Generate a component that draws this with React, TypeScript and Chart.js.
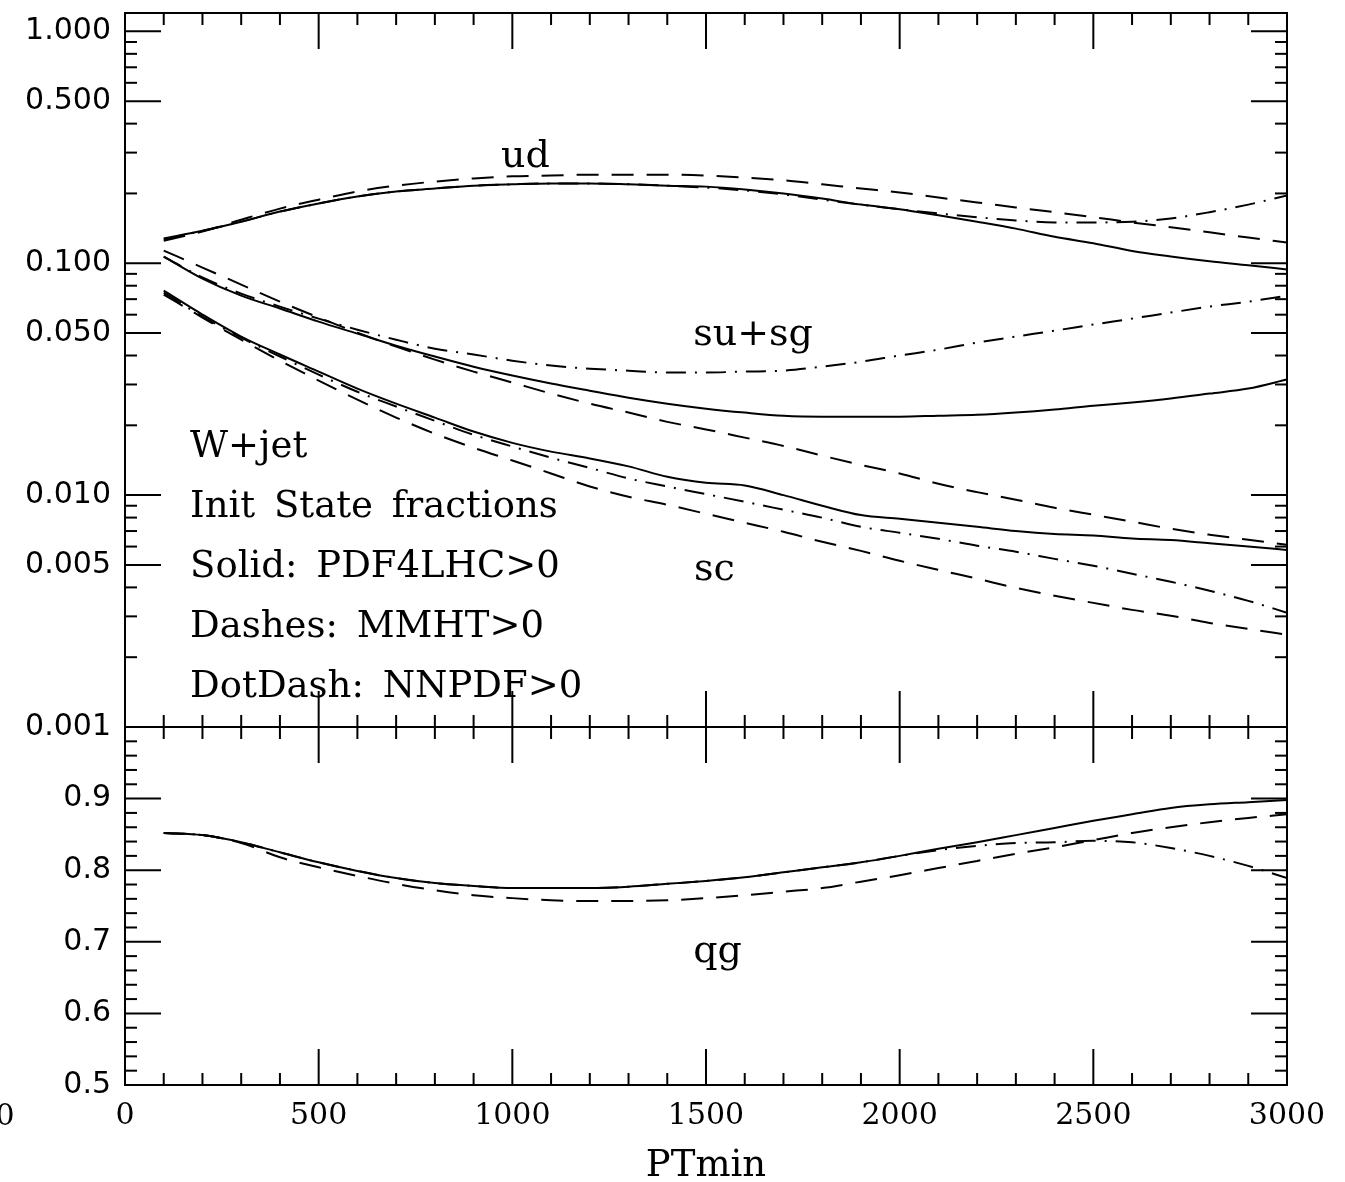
import { useEffect, useRef } from 'react';
import { Chart, registerables } from 'chart.js';

Chart.register(...registerables);

// ---- data ----
const PTMIN = [100, 200, 300, 400, 500, 600, 700, 800, 900, 1000, 1100, 1200, 1300, 1400, 1500,
  1600, 1700, 1800, 1900, 2000, 2100, 2200, 2300, 2400, 2500, 2600, 2700, 2800, 2900, 3000];

const UD_PDF4LHC = [0.128, 0.138, 0.151, 0.167, 0.181, 0.194, 0.204, 0.210, 0.216, 0.219, 0.221, 0.221, 0.219, 0.216, 0.214,
  0.208, 0.200, 0.190, 0.179, 0.171, 0.161, 0.151, 0.141, 0.130, 0.122, 0.113, 0.107, 0.102, 0.098, 0.094];
const UD_MMHT = [0.125, 0.137, 0.154, 0.172, 0.188, 0.204, 0.216, 0.225, 0.232, 0.237, 0.239, 0.241, 0.241, 0.241, 0.239,
  0.234, 0.228, 0.219, 0.210, 0.202, 0.192, 0.183, 0.174, 0.166, 0.158, 0.150, 0.143, 0.136, 0.129, 0.123];
const UD_NNPDF = [0.127, 0.138, 0.151, 0.167, 0.181, 0.194, 0.204, 0.210, 0.216, 0.219, 0.221, 0.221, 0.219, 0.216, 0.212,
  0.206, 0.198, 0.188, 0.179, 0.171, 0.164, 0.158, 0.153, 0.150, 0.150, 0.151, 0.156, 0.166, 0.179, 0.196];

const SU_PDF4LHC = [0.1069, 0.0859, 0.0725, 0.0638, 0.0560, 0.0497, 0.0441, 0.0396, 0.0358, 0.0328, 0.0303, 0.0282, 0.0263, 0.0248, 0.0236,
  0.0227, 0.0220, 0.0218, 0.0218, 0.0218, 0.0220, 0.0222, 0.0227, 0.0234, 0.0243, 0.0251, 0.0261, 0.0274, 0.0288, 0.0315];
const SU_MMHT = [0.1134, 0.0958, 0.0809, 0.0683, 0.0583, 0.0502, 0.0437, 0.0384, 0.0341, 0.0306, 0.0274, 0.0248, 0.0227, 0.0207, 0.0192,
  0.0177, 0.0163, 0.0148, 0.0135, 0.0124, 0.0112, 0.0103, 0.00955, 0.00882, 0.00823, 0.00768, 0.00716, 0.00675, 0.00642, 0.00611];
const SU_NNPDF = [0.1069, 0.0868, 0.0740, 0.0650, 0.0577, 0.0517, 0.0468, 0.0428, 0.0404, 0.0380, 0.0362, 0.0351, 0.0344, 0.0338, 0.0338,
  0.0341, 0.0344, 0.0358, 0.0376, 0.0400, 0.0424, 0.0455, 0.0483, 0.0512, 0.0544, 0.0577, 0.0613, 0.0650, 0.0683, 0.0725];

const SC_PDF4LHC = [0.0762, 0.0601, 0.0483, 0.0404, 0.0341, 0.0288, 0.0248, 0.0216, 0.0188, 0.0168, 0.0154, 0.0144, 0.0133, 0.0120, 0.0113,
  0.0110, 0.0100, 0.0090, 0.0082, 0.0079, 0.0076, 0.0073, 0.0070, 0.0068, 0.0067, 0.0065, 0.0064, 0.0062, 0.0060, 0.0058];
const SC_MMHT = [0.0733, 0.0583, 0.0468, 0.0380, 0.0312, 0.0258, 0.0216, 0.0184, 0.0160, 0.0141, 0.0124, 0.0109, 0.00984, 0.00909, 0.00831,
  0.00760, 0.00695, 0.00629, 0.00575, 0.00521, 0.00476, 0.00436, 0.00398, 0.00368, 0.00343, 0.00320, 0.00302, 0.00281, 0.00265, 0.00250];
const SC_NNPDF = [0.0747, 0.0589, 0.0478, 0.0396, 0.0331, 0.0279, 0.0241, 0.0209, 0.0182, 0.0162, 0.0145, 0.0131, 0.0118, 0.0109, 0.0101,
  0.00936, 0.00865, 0.00799, 0.00730, 0.00688, 0.00648, 0.00605, 0.00570, 0.00531, 0.00496, 0.00458, 0.00423, 0.00387, 0.00350, 0.00311];

const QG_PDF4LHC = [0.852, 0.849, 0.839, 0.825, 0.811, 0.799, 0.789, 0.782, 0.778, 0.775, 0.775, 0.775, 0.777, 0.781, 0.785,
  0.790, 0.797, 0.804, 0.811, 0.820, 0.830, 0.839, 0.849, 0.859, 0.869, 0.878, 0.887, 0.892, 0.895, 0.898];
const QG_MMHT = [0.852, 0.849, 0.838, 0.818, 0.804, 0.792, 0.781, 0.772, 0.765, 0.761, 0.758, 0.757, 0.757, 0.758, 0.761,
  0.765, 0.770, 0.775, 0.784, 0.793, 0.803, 0.813, 0.823, 0.832, 0.842, 0.852, 0.860, 0.867, 0.873, 0.878];
const QG_NNPDF = [0.852, 0.849, 0.839, 0.825, 0.811, 0.799, 0.789, 0.782, 0.778, 0.775, 0.775, 0.775, 0.777, 0.781, 0.785,
  0.790, 0.797, 0.804, 0.811, 0.820, 0.828, 0.834, 0.838, 0.839, 0.841, 0.839, 0.831, 0.820, 0.806, 0.789];

const X_TICKS = [0, 500, 1000, 1500, 2000, 2500, 3000];
const LOG_TICKS = [0.001, 0.005, 0.01, 0.05, 0.1, 0.5, 1];
const LIN_TICKS = [0.5, 0.6, 0.7, 0.8, 0.9];

const CURVE_LABELS = [
  { text: 'ud', x: 971, y: 0.259, axis: 'yTop' },
  { text: 'su+sg', x: 1467, y: 0.0446, axis: 'yTop' },
  { text: 'sc', x: 1469, y: 0.00431, axis: 'yTop' },
  { text: 'qg', x: 1467, y: 0.672, axis: 'yBot' },
];
const INFO_LINES = ['W+jet', 'Init State fractions', 'Solid: PDF4LHC>0', 'Dashes: MMHT>0', 'DotDash: NNPDF>0'];
const INFO_Y = [0.01465, 0.00807, 0.00445, 0.00245, 0.00135];
const INFO_X = 168;

const DASH = [22, 13];
const DOTDASH = [20, 9, 2, 9];

function series(ys: number[]) {
  return PTMIN.map((x, i) => ({ x, y: ys[i] }));
}

function ds(ys: number[], axis: string, dash: number[]) {
  return {
    data: series(ys),
    yAxisID: axis,
    borderColor: '#000',
    borderWidth: 2,
    borderDash: dash,
    pointRadius: 0,
    fill: false,
    cubicInterpolationMode: 'monotone' as const,
  };
}

const framePlugin = {
  id: 'framePlugin',
  afterDatasetsDraw(chart: any) {
    const { ctx, chartArea: ca } = chart;
    const xs = chart.scales.x;
    const yT = chart.scales.yTop;
    const yB = chart.scales.yBot;
    ctx.save();
    ctx.strokeStyle = '#000';
    ctx.lineWidth = 2;
    ctx.setLineDash([]);
    const seg = (x1: number, y1: number, x2: number, y2: number) => {
      ctx.beginPath();
      ctx.moveTo(x1, y1);
      ctx.lineTo(x2, y2);
      ctx.stroke();
    };
    ctx.strokeRect(ca.left, ca.top, ca.right - ca.left, ca.bottom - ca.top);
    const mid = yT.bottom;
    seg(ca.left, mid, ca.right, mid);

    // x ticks
    for (let v = 0; v <= 3000; v += 100) {
      const px = xs.getPixelForValue(v);
      const len = v % 500 === 0 ? 36 : 12;
      seg(px, yT.top, px, yT.top + len);
      seg(px, mid, px, mid - len);
      seg(px, mid, px, mid + len);
      seg(px, yB.bottom, px, yB.bottom - len);
    }
    // log ticks
    for (const dec of [0.001, 0.01, 0.1, 1]) {
      for (let m = 1; m <= 9; m++) {
        const v = m * dec;
        if (v > yT.max * 1.0001) continue;
        const len = m === 1 || m === 5 ? 36 : 12;
        const py = yT.getPixelForValue(v);
        seg(ca.left, py, ca.left + len, py);
        seg(ca.right, py, ca.right - len, py);
      }
    }
    // linear ticks
    for (let k = 0; k <= 25; k++) {
      const v = 0.5 + k * 0.02;
      const len = k % 5 === 0 ? 36 : 12;
      const py = yB.getPixelForValue(v);
      seg(ca.left, py, ca.left + len, py);
      seg(ca.right, py, ca.right - len, py);
    }

    ctx.fillStyle = '#000';
    ctx.textAlign = 'left';
    ctx.textBaseline = 'alphabetic';
    ctx.font = '38px "DejaVu Serif"';
    for (const l of CURVE_LABELS) {
      const sc = chart.scales[l.axis];
      ctx.fillText(l.text, xs.getPixelForValue(l.x), sc.getPixelForValue(l.y));
    }
    ctx.font = '37px "DejaVu Serif"';
    try { (ctx as any).wordSpacing = '7px'; } catch (e) { /* ignore */ }
    INFO_LINES.forEach((t, i) => {
      ctx.fillText(t, xs.getPixelForValue(INFO_X), yT.getPixelForValue(INFO_Y[i]));
    });
    try { (ctx as any).wordSpacing = '0px'; } catch (e) { /* ignore */ }
    // stray clipped label at the far left of the x axis
    ctx.font = '30px "DejaVu Serif"';
    ctx.textAlign = 'center';
    ctx.fillText('0', 5, 1125);
    ctx.restore();
  },
};

export default function App() {
  const ref = useRef<HTMLCanvasElement | null>(null);
  useEffect(() => {
    if (!ref.current) return;
    const chart = new Chart(ref.current, {
      type: 'line',
      data: {
        datasets: [
          ds(UD_PDF4LHC, 'yTop', []),
          ds(UD_MMHT, 'yTop', DASH),
          ds(UD_NNPDF, 'yTop', DOTDASH),
          ds(SU_PDF4LHC, 'yTop', []),
          ds(SU_MMHT, 'yTop', DASH),
          ds(SU_NNPDF, 'yTop', DOTDASH),
          ds(SC_PDF4LHC, 'yTop', []),
          ds(SC_MMHT, 'yTop', DASH),
          ds(SC_NNPDF, 'yTop', DOTDASH),
          ds(QG_PDF4LHC, 'yBot', []),
          ds(QG_MMHT, 'yBot', DASH),
          ds(QG_NNPDF, 'yBot', DOTDASH),
        ] as any,
      },
      options: {
        responsive: false,
        animation: false,
        devicePixelRatio: 1,
        events: [],
        layout: { padding: { top: 13, right: 58, left: 0, bottom: 0 } },
        plugins: { legend: { display: false }, tooltip: { enabled: false }, title: { display: false } },
        scales: {
          x: {
            type: 'linear',
            position: 'bottom',
            min: 0,
            max: 3000,
            grid: { display: false, drawTicks: false },
            border: { display: false },
            afterBuildTicks: (s: any) => { s.ticks = X_TICKS.map((v) => ({ value: v })); },
            afterFit: (s: any) => { s.height = 97; s.paddingLeft = 0; s.paddingRight = 0; },
            ticks: {
              padding: 13,
              autoSkip: false,
              maxRotation: 0,
              color: '#000',
              font: { family: 'DejaVu Serif', size: 30 },
              callback: (v: any) => String(v),
            },
            title: {
              display: true,
              text: 'PTmin',
              color: '#000',
              font: { family: 'DejaVu Serif', size: 37, lineHeight: 0.85 },
              padding: { top: 0, bottom: 0 },
            },
          },
          yBot: {
            type: 'linear',
            position: 'left',
            stack: 'panels',
            stackWeight: 358,
            min: 0.5,
            max: 1.0,
            grid: { display: false, drawTicks: false },
            border: { display: false },
            afterBuildTicks: (s: any) => { s.ticks = LIN_TICKS.map((v) => ({ value: v })); },
            afterFit: (s: any) => { s.width = 125; s.paddingTop = 0; s.paddingBottom = 0; },
            ticks: {
              padding: 14,
              autoSkip: false,
              color: '#000',
              font: { family: 'DejaVu Sans', size: 30 },
              callback: (v: any) => Number(v).toFixed(1),
            },
          },
          yTop: {
            type: 'logarithmic',
            position: 'left',
            stack: 'panels',
            stackWeight: 714,
            min: 0.001,
            max: 1.2,
            grid: { display: false, drawTicks: false },
            border: { display: false },
            afterBuildTicks: (s: any) => { s.ticks = LOG_TICKS.map((v) => ({ value: v })); },
            afterFit: (s: any) => { s.width = 125; s.paddingTop = 0; s.paddingBottom = 0; },
            ticks: {
              padding: 14,
              autoSkip: false,
              color: '#000',
              font: { family: 'DejaVu Sans', size: 30 },
              callback: (v: any) => Number(v).toFixed(3),
            },
          },
        } as any,
      },
      plugins: [framePlugin],
    });
    return () => chart.destroy();
  }, []);
  return (
    <div style={{ position: 'fixed', left: 0, top: 0, width: 1345, height: 1182, background: '#fff' }}>
      <canvas ref={ref} width={1345} height={1182} style={{ display: 'block' }} />
    </div>
  );
}
